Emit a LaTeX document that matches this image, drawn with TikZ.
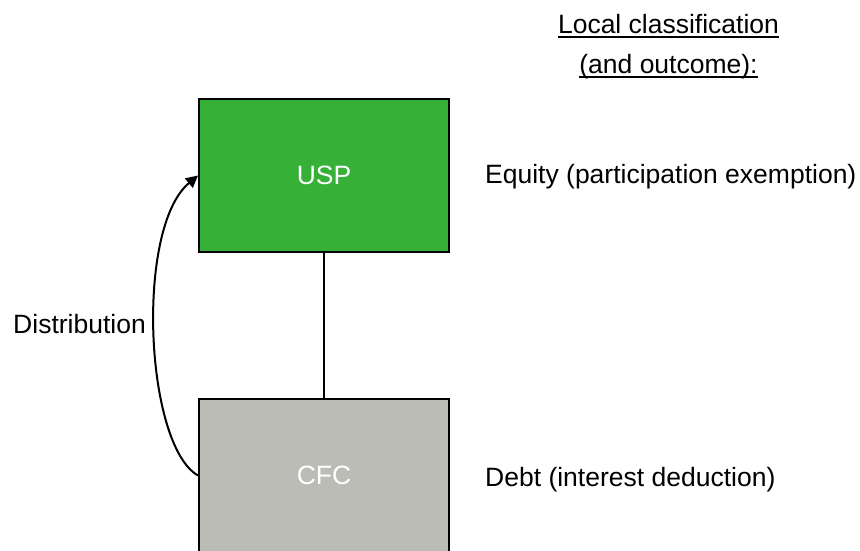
\documentclass[tikz,border=0pt]{standalone}
\usepackage{fontspec}
\setmainfont{Liberation Sans}
\usetikzlibrary{arrows.meta}
\definecolor{uspgreen}{RGB}{54,176,55}
\definecolor{cfcgray}{RGB}{188,188,183}
% underline drawn a fixed distance below the baseline
\newcommand\ulbase[1]{\setbox0\hbox{#1}\rlap{\rule[-5pt]{\wd0}{1.7pt}}\box0}
\tikzset{
  entity/.style={draw=black, line width=2pt, minimum width=250pt, minimum height=153pt,
    inner sep=0pt, text=white, font=\fontsize{26.5}{30}\selectfont},
  label/.style={inner sep=0pt, font=\fontsize{26.5}{30}\selectfont},
  link/.style={line width=1.5pt},
  flow/.style={line width=2pt, -{Triangle[length=12pt,width=12pt]}}
}
\begin{document}
\begin{tikzpicture}[x=1pt,y=-1pt]
  \useasboundingbox (0,0) rectangle (860,550);
  \clip (0,0) rectangle (860,550);
  \fill[white] (0,0) rectangle (860,550);

  % entities
  \node[entity, fill=uspgreen] (usp) at (324,175.5) {USP};
  \node[entity, fill=cfcgray] (cfc) at (324,475.5) {CFC};
  \draw[link] (usp.south) -- (cfc.north);

  % distribution arrow
  \draw[flow] (cfc.west) .. controls (145,445) and (135,228) .. (usp.west);
  \node[label, anchor=base east] (dist) at (146,333) {Distribution};

  % local classification column
  \node[label, anchor=base] (head1) at (668.5,33) {\ulbase{Local classification}};
  \node[label, anchor=base] (head2) at (668.5,73) {\ulbase{(and outcome):}};
  \node[label, anchor=base west] (eq) at (485,183) {Equity (participation exemption)};
  \node[label, anchor=base west] (debt) at (485,486) {Debt (interest deduction)};
\end{tikzpicture}
\end{document}
